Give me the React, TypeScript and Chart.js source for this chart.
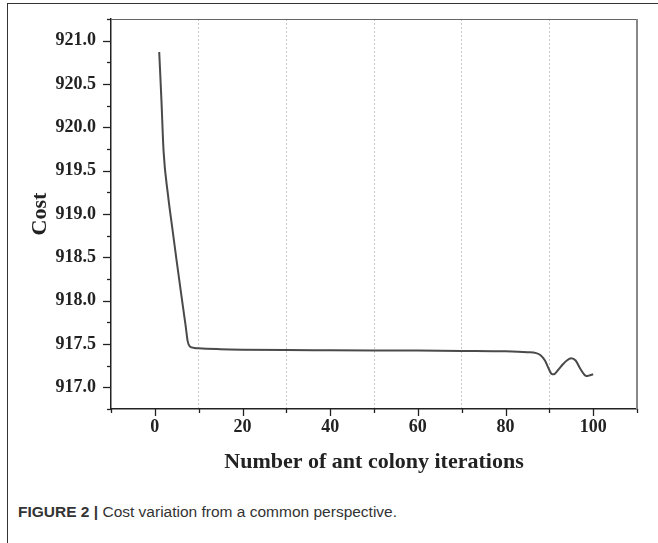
import React, { useEffect, useRef } from "react";
import { Chart, registerables } from "chart.js";

Chart.register(...registerables);

// Data
const iterations = [1, 1.5, 2, 3, 4, 5, 6, 7, 7.5, 8, 9, 10, 15, 20, 30, 40, 50, 60, 70, 80, 85, 87, 88, 89, 90, 90.5, 91, 92, 93, 94, 95, 96, 97, 98, 98.5, 99, 100];
const costs = [920.87, 920.32, 919.72, 919.22, 918.83, 918.45, 918.08, 917.72, 917.53, 917.47, 917.455, 917.45, 917.44, 917.435, 917.43, 917.428, 917.426, 917.424, 917.42, 917.415, 917.405, 917.395, 917.37, 917.31, 917.2, 917.155, 917.15, 917.2, 917.26, 917.31, 917.335, 917.31, 917.22, 917.145, 917.13, 917.135, 917.15];

const xMajorTicks = [0, 20, 40, 60, 80, 100];
const xMinorTicks = [-10, 10, 30, 50, 70, 90, 110];
const yMajorTicks = [917.0, 917.5, 918.0, 918.5, 919.0, 919.5, 920.0, 920.5, 921.0];
const yMinorTicks = [916.75, 917.25, 917.75, 918.25, 918.75, 919.25, 919.75, 920.25, 920.75, 921.25];
const gridLinesX = [10, 30, 50, 70, 90];

const xTitle = "Number of ant colony iterations";
const yTitle = "Cost";

const SERIF = '"Liberation Serif", "Times New Roman", serif';

const near = (a: number, list: number[]) => list.some((v) => Math.abs(v - a) < 1e-6);

const framePlugin = {
  id: "frameTicks",
  afterDraw(chart: any) {
    const { ctx, chartArea, scales } = chart;
    const { left, right, top, bottom } = chartArea;
    ctx.save();
    ctx.strokeStyle = "#666";
    ctx.lineWidth = 1;
    ctx.beginPath();
    ctx.moveTo(left, top + 0.5);
    ctx.lineTo(right, top + 0.5);
    ctx.stroke();
    ctx.strokeStyle = "#888";
    ctx.lineWidth = 2;
    ctx.beginPath();
    ctx.moveTo(right, top);
    ctx.lineTo(right, bottom);
    ctx.stroke();
    ctx.strokeStyle = "#222";
    ctx.lineWidth = 1.3;
    const xs = scales.x;
    const ys = scales.y;
    xMajorTicks.forEach((v) => {
      const px = Math.round(xs.getPixelForValue(v)) + 0.5;
      ctx.beginPath();
      ctx.moveTo(px, bottom);
      ctx.lineTo(px, bottom + 7);
      ctx.stroke();
    });
    xMinorTicks.forEach((v) => {
      const px = Math.round(xs.getPixelForValue(v)) + 0.5;
      ctx.beginPath();
      ctx.moveTo(px, bottom);
      ctx.lineTo(px, bottom + 4);
      ctx.stroke();
    });
    yMajorTicks.forEach((v) => {
      const py = Math.round(ys.getPixelForValue(v)) + 0.5;
      ctx.beginPath();
      ctx.moveTo(left, py);
      ctx.lineTo(left - 8, py);
      ctx.stroke();
    });
    yMinorTicks.forEach((v) => {
      const py = Math.round(ys.getPixelForValue(v)) + 0.5;
      ctx.beginPath();
      ctx.moveTo(left, py);
      ctx.lineTo(left - 4, py);
      ctx.stroke();
    });
    ctx.restore();
  },
};

export default function App() {
  const canvasRef = useRef<HTMLCanvasElement | null>(null);

  useEffect(() => {
    if (!canvasRef.current) return;
    const points = iterations.map((x, i) => ({ x, y: costs[i] }));
    const chart = new Chart(canvasRef.current, {
      type: "line",
      data: {
        datasets: [
          {
            data: points,
            borderColor: "#4a4a4a",
            borderWidth: 2,
            pointRadius: 0,
            cubicInterpolationMode: "monotone",
            fill: false,
          },
        ],
      },
      plugins: [framePlugin],
      options: {
        animation: false,
        responsive: false,
        devicePixelRatio: 1,
        layout: { padding: { top: 19, right: 21, left: 0, bottom: 0 } },
        plugins: { legend: { display: false }, tooltip: { enabled: false } },
        scales: {
          x: {
            type: "linear",
            min: -10,
            max: 110,
            afterFit: (s: any) => {
              s.height = 81;
            },
            ticks: {
              stepSize: 10,
              padding: 0,
              autoSkip: false,
              maxRotation: 0,
              color: "#222",
              font: { family: SERIF, size: 18, weight: "bold" },
              callback: (v: any) => (near(Number(v), xMajorTicks) ? String(v) : ""),
            },
            grid: {
              drawTicks: true,
              tickLength: 8,
              tickColor: "transparent",
              lineWidth: 1,
              color: (c: any) => (c.tick && near(c.tick.value, gridLinesX) ? "#c8c8c8" : "transparent"),
            },
            border: { display: true, color: "#222", width: 1.5, dash: [2, 2] },
            title: {
              display: true,
              text: xTitle,
              color: "#222",
              font: { family: SERIF, size: 22, weight: "bold" },
              padding: { top: 0, bottom: 14 },
            },
          },
          y: {
            type: "linear",
            min: 916.75,
            max: 921.25,
            afterFit: (s: any) => {
              s.width = 111;
            },
            ticks: {
              stepSize: 0.25,
              padding: 7,
              autoSkip: false,
              color: "#222",
              font: { family: SERIF, size: 18, weight: "bold" },
              callback: (v: any) => (near(Number(v), yMajorTicks) ? Number(v).toFixed(1) : ""),
            },
            grid: {
              drawOnChartArea: false,
              drawTicks: true,
              tickLength: 8,
              tickColor: "transparent",
            },
            border: { display: true, color: "#222", width: 1.5 },
            title: {
              display: true,
              text: yTitle,
              color: "#222",
              font: { family: SERIF, size: 22, weight: "bold" },
              padding: { top: 27, bottom: 0 },
            },
          },
        },
      } as any,
    });
    return () => chart.destroy();
  }, []);

  return (
    <div style={{ position: "absolute", left: 0, top: 0, width: 658, height: 543, background: "#fff", overflow: "hidden" }}>
      <div
        style={{
          position: "absolute",
          left: 7,
          top: 3,
          width: 660,
          height: 560,
          borderTop: "1px solid #333",
          borderLeft: "1px solid #333",
          boxSizing: "border-box",
        }}
      />
      <canvas ref={canvasRef} width={658} height={490} style={{ position: "absolute", left: 0, top: 0, width: 658, height: 490 }} />
      <div
        style={{
          position: "absolute",
          left: 18,
          top: 503,
          fontFamily: '"Liberation Sans", Arial, sans-serif',
          fontSize: 15.5,
          color: "#333",
          whiteSpace: "nowrap",
        }}
      >
        <span style={{ fontWeight: "bold" }}>FIGURE 2 | </span>
        <span>Cost variation from a common perspective.</span>
      </div>
    </div>
  );
}
